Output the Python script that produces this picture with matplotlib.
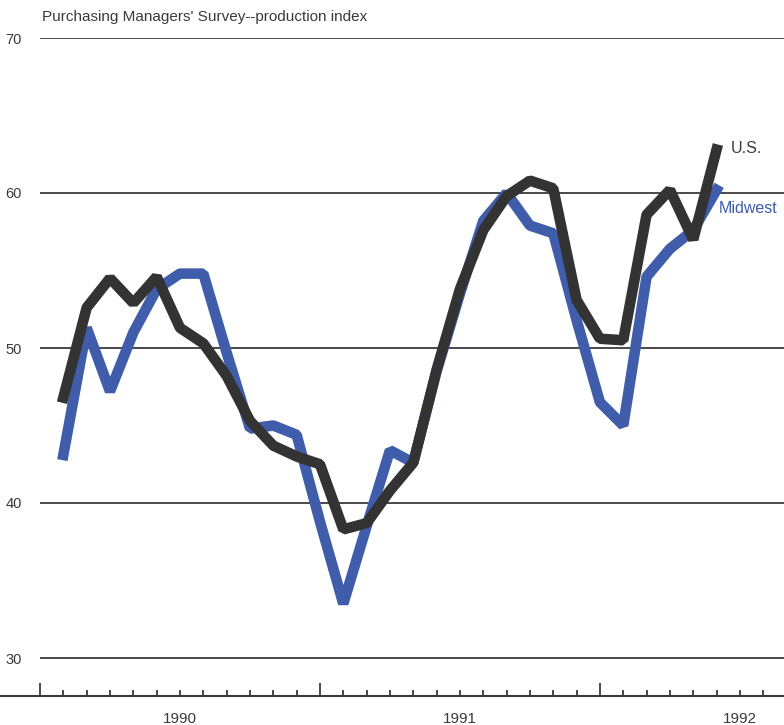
import matplotlib
matplotlib.use("Agg")
import matplotlib.pyplot as plt
from matplotlib.lines import Line2D
from matplotlib.ticker import FixedLocator

plt.rcParams['font.family'] = ['Liberation Sans', 'DejaVu Sans']

# Monthly observations, Jan 1990 .. May 1992 (index 1..29)
months = list(range(1, 30))
us = [46.8, 52.6, 54.5, 52.9, 54.6, 51.3, 50.3, 48.2, 45.3, 43.7,
      43.0, 42.5, 38.3, 38.7, 40.8, 42.6, 48.6, 53.8, 57.6, 59.8,
      60.8, 60.3, 53.1, 50.6, 50.5, 58.6, 60.2, 57.0, 62.8]
midwest = [43.1, 51.3, 47.2, 51.0, 53.8, 54.8, 54.8, 49.7, 44.8, 45.0,
           44.4, 38.8, 33.5, 38.5, 43.4, 42.6, 48.5, 53.5, 58.2, 60.0,
           57.9, 57.4, 51.8, 46.5, 45.0, 54.6, 56.4, 57.6, 60.2]
yticks = [30, 40, 50, 60, 70]
year_labels = ['1990', '1991', '1992']
year_centers = [6, 18, 30]

W, H = 784, 725
fig = plt.figure(figsize=(W / 100, H / 100), dpi=100)
fig.patch.set_facecolor('white')

left_px, bottom_px, top_px = 40, 696, 38
ax = fig.add_axes([left_px / W, 1 - bottom_px / H, 1 - left_px / W, (bottom_px - top_px) / H])
px_per_month = 23.33
ax.set_xlim(0, (W - left_px) / px_per_month)
ax.set_ylim(30 - (bottom_px - 658) / 15.5, 70)

gridc = '#3a3a3a'
txtc = '#3a3a3a'
for v in yticks:
    ax.axhline(v, color=gridc, lw=1.3, zorder=1)

blue = '#3f5dab'
dark = '#333333'
ax.plot(months, midwest, color=blue, lw=7.6, solid_joinstyle='bevel', zorder=2)
ax.plot(months, us, color=dark, lw=7.6, solid_joinstyle='bevel', zorder=3)

for s in ax.spines.values():
    s.set_visible(False)

ax.set_yticks(yticks)
ax.set_yticklabels([str(v) for v in yticks])
ax.tick_params(axis='y', length=0, pad=13, labelsize=10.5, labelcolor=txtc)

ax.xaxis.set_major_locator(FixedLocator([0, 12, 24]))
ax.xaxis.set_minor_locator(FixedLocator([m for m in range(0, 32) if m % 12 != 0]))
ax.set_xticklabels([])
ax.tick_params(axis='x', which='major', direction='in', length=9.5, width=1.3, color=gridc)
ax.tick_params(axis='x', which='minor', direction='in', length=4, width=1.3, color=gridc)

for lab, c in zip(year_labels, year_centers):
    ax.text(c, 30 - (719 - 658) / 15.5, lab, ha='center', va='center', fontsize=11,
            color=txtc, clip_on=False)

# bottom axis line spanning full width
fig.add_artist(Line2D([0, 1], [1 - bottom_px / H] * 2, color=gridc, lw=1.5))

fig.text(42 / W, 1 - 17 / H, "Purchasing Managers' Survey--production index",
         ha='left', va='center', fontsize=11, color=txtc)

ax.text(29.6, 62.9, 'U.S.', ha='left', va='center', fontsize=11.5, color=txtc)
ax.text(29.1, 59.0, 'Midwest', ha='left', va='center', fontsize=11.5, color=blue)

fig.savefig('out.png', dpi=100)
